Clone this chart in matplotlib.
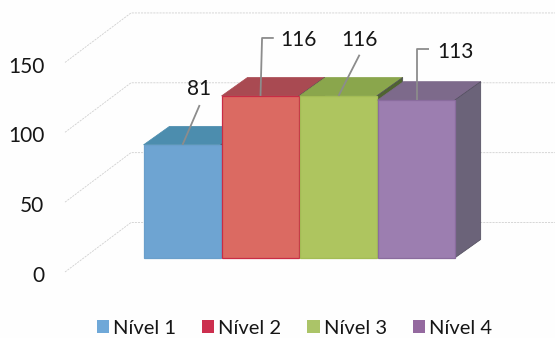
import matplotlib
matplotlib.use("Agg")
import matplotlib.pyplot as plt
from matplotlib.patches import Polygon, Patch

plt.rcParams["font.family"] = ["Lato", "DejaVu Sans"]

categories = ["Nível 1", "Nível 2", "Nível 3", "Nível 4"]
values = [81, 116, 116, 113]
axis_ticks = [0, 50, 100, 150]
front_colors = ["#6EA4D2", "#DB6A62", "#AEC55F", "#9C7EB0"]
edge_colors = ["#6A9FCB", "#C92C45", "#A3BC55", "#8A6C9E"]
top_colors = ["#4C8DAE", "#A94A52", "#8AA64C", "#7D6A8B"]
side_colors = ["#41708C", "#80323C", "#4F6430", "#6B6379"]
legend_colors = ["#6FA8D8", "#CC2F4E", "#ABC468", "#94699F"]

WIDTH_PX, HEIGHT_PX = 555, 338
ORIGIN_X, BASE_Y = 143.5, 258   # pixel position of the first bar's lower-left corner
BAR_PX = 78                     # one category step
VALUE_PX = 1.397                # pixels per value unit

# Oblique projection of the chart depth, in data units
BAR_DX, BAR_DY = 26 / BAR_PX, 18.5 / VALUE_PX
WALL_X0 = (65 - ORIGIN_X) / BAR_PX
WALL_Y0 = (BASE_Y - 272) / VALUE_PX
WALL_DX, WALL_DY = 66 / BAR_PX, 49.5 / VALUE_PX
WALL_END = (WIDTH_PX - ORIGIN_X) / BAR_PX

fig = plt.figure(figsize=(WIDTH_PX / 100, HEIGHT_PX / 100), dpi=100, facecolor="#FEFEFE")
ax = fig.add_axes([0, 0, 1, 1])
ax.set_xlim(-ORIGIN_X / BAR_PX, WALL_END)
ax.set_ylim((BASE_Y - HEIGHT_PX) / VALUE_PX, BASE_Y / VALUE_PX)
ax.axis("off")

# Dashed wall grid, running back from the value axis and along the rear wall
for tick in axis_ticks:
    y0 = WALL_Y0 + tick
    ax.plot([WALL_X0, WALL_X0 + WALL_DX, WALL_END],
            [y0, y0 + WALL_DY, y0 + WALL_DY],
            color="#D0D0D0", lw=0.6, ls=(0, (2.5, 1.2)), zorder=1)
    ax.text((44.5 - ORIGIN_X) / BAR_PX, y0 - 3, str(tick), ha="right", va="center",
            fontsize=15, color="#161616")

# Bars are painted left to right so each one hides the previous side face
for i, value in enumerate(values):
    x0, x1 = i, i + 0.99
    ax.add_patch(Polygon([(x0, value), (x1, value), (x1 + BAR_DX, value + BAR_DY),
                          (x0 + BAR_DX, value + BAR_DY)],
                         facecolor=top_colors[i], edgecolor=top_colors[i], lw=0.5, zorder=2 + i))
    ax.add_patch(Polygon([(x1, 0), (x1 + BAR_DX, BAR_DY), (x1 + BAR_DX, value + BAR_DY), (x1, value)],
                         facecolor=side_colors[i], edgecolor="#4E4A5A", lw=0.5, zorder=2 + i))
    ax.add_patch(Polygon([(x0, 0), (x1, 0), (x1, value), (x0, value)],
                         facecolor=front_colors[i], edgecolor=edge_colors[i], lw=0.9, zorder=2 + i))

# Value labels with their leader lines
leader_rise = [28.5, 41.5, 29.5, 36.5]
leader_shift = [0.22, 0.02, 0.27, 0.0]
leader_hook = [0.0, 0.15, 0.0, 0.16]
label_dx = [0.21, 0.49, 0.27, 0.50]
label_dy = [40.2, 40.2, 40.2, 34.8]
for i, value in enumerate(values):
    cx = i + 0.5
    xs = [cx, cx + leader_shift[i]]
    ys = [value, value + leader_rise[i]]
    if leader_hook[i]:
        xs.append(xs[-1] + leader_hook[i])
        ys.append(ys[-1])
    ax.plot(xs, ys, color="#8C8C8C", lw=1.3, zorder=10, solid_capstyle="butt")
    ax.text(cx + label_dx[i], value + label_dy[i], str(value), ha="center", va="center",
            fontsize=15, color="#161616", zorder=11)

handles = [Patch(facecolor=c, edgecolor="none") for c in legend_colors]
ax.legend(handles, categories, ncol=4, frameon=False, loc="center",
          bbox_to_anchor=(294.5 / WIDTH_PX, 1 - 328 / HEIGHT_PX), fontsize=14.5,
          handlelength=0.6, handleheight=0.6, handletextpad=0.2, columnspacing=1.29,
          labelcolor="#161616", borderpad=0)

fig.savefig("out.png", dpi=100, facecolor=fig.get_facecolor())
